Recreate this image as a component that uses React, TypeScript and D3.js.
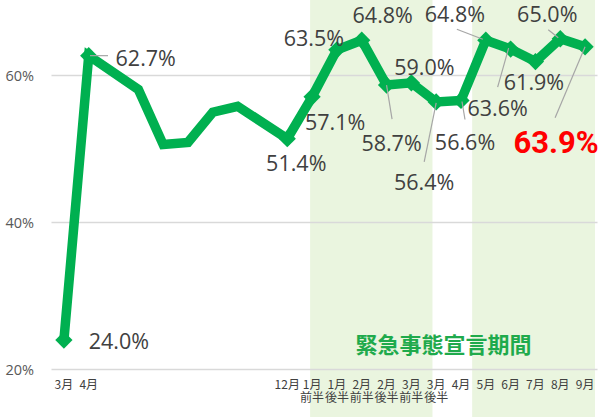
import * as d3 from "d3"

// survey rounds (blank names = rounds without an axis label)
const months = [
  "3月", "4月", "", "", "", "", "", "", "", "12月",
  "1月", "1月", "2月", "2月", "3月", "3月", "4月", "5月", "6月", "7月", "8月", "9月",
]
const halves = [
  "", "", "", "", "", "", "", "", "", "",
  "前半", "後半", "前半", "後半", "前半", "後半", "", "", "", "", "", "",
]
const rates: (number | null)[] = [
  24.0, 62.7, null, 58.1, 50.6, 50.9, 55.0, 55.8, null, 51.4,
  57.1, 63.5, 64.8, 58.7, 59.0, 56.4, 56.6, 64.8, 63.6, 61.9, 65.0, 63.9,
]
// which rounds carry a data label
const labelled = [0, 1, 9, 10, 11, 12, 13, 14, 15, 16, 17, 18, 19, 20, 21]
const yTicks = [20, 40, 60]
// state of emergency periods, in category units
const emergencyPeriods: [number, number][] = [
  [9.92, 14.85],
  [16.45, 21.4],
]
const legendText = "緊急事態宣言期間"

const W = 600
const H = 417
const GREEN = "#00b050"

// label placement relative to the point: [dx, dy, leader?]
const labelPos: Record<number, [number, number, number[]?]> = {
  0: [55, 0],
  1: [57, 2, [1.3, 0, 19.3, 0]],
  9: [9, 24],
  10: [23, 25],
  11: [-23, -12],
  12: [21, -26],
  13: [5, 57, [0, 0, 5.5, 34]],
  14: [13, -16],
  15: [-12, 80, [0, 1, -12, 60]],
  16: [4, 41, [1, 1, 4, 19]],
  17: [-31, -27, [-29, -11, -3, -1]],
  18: [-13, 58, [-2, -1, -13, 38]],
  19: [-1.5, 20],
  20: [-13, -25, [-12, -9, -2, -1]],
  21: [-29, 96, [0, 0, -30, 71]],
}

export default function App() {
  const x = d3
    .scalePoint<number>()
    .domain(d3.range(months.length))
    .range([51.5, 597.5])
    .padding(0.5)
  const step = x.step()
  const xi = (i: number) => (x(0) as number) + i * step

  const y = d3.scaleLinear().domain([20, 70]).range([369.5, 2])

  const pts = rates
    .map((v, i) => ({ i, v }))
    .filter((d) => d.v !== null) as { i: number; v: number }[]

  const line = d3
    .line<{ i: number; v: number }>()
    .x((d) => xi(d.i))
    .y((d) => y(d.v))

  const diamond = d3.symbol().type(d3.symbolDiamond2).size(190)()

  return (
    <svg
      width={W}
      height={H}
      style={{ position: "absolute", left: 0, top: 0, background: "#fff" }}
    >
      {emergencyPeriods.map(([a, b], k) => (
        <rect key={k} x={xi(a)} y={0} width={xi(b) - xi(a)} height={H} fill="#eaf5df" />
      ))}

      {yTicks.map((t) => (
        <g key={t}>
          <line x1={51.5} x2={597.5} y1={y(t)} y2={y(t)} stroke="#d9d9d9" strokeWidth={1.3} />
          <text
            x={34}
            y={y(t)}
            textAnchor="end"
            dominantBaseline="central"
            fontFamily="'Open Sans', sans-serif"
            fontSize={14.5}
            fill="#595959"
          >
            {t}%
          </text>
        </g>
      ))}

      <g fontFamily="'Noto Sans CJK JP', sans-serif" fontSize={12} fill="#404040" textAnchor="middle">
        {months.map((m, i) =>
          m ? (
            <text key={"m" + i} x={xi(i)} y={383} dominantBaseline="central">
              {m}
            </text>
          ) : null,
        )}
        {halves.map((h, i) =>
          h ? (
            <text key={"h" + i} x={xi(i)} y={396} dominantBaseline="central">
              {h}
            </text>
          ) : null,
        )}
      </g>

      <text
        x={(xi(emergencyPeriods[0][0]) + xi(emergencyPeriods[1][1])) / 2 - 9}
        y={343}
        textAnchor="middle"
        dominantBaseline="central"
        fontFamily="'Noto Sans CJK JP', sans-serif"
        fontWeight={700}
        fontSize={22}
        fill="#1faa4c"
      >
        {legendText}
      </text>

      <path
        d={line(pts) ?? ""}
        fill="none"
        stroke={GREEN}
        strokeWidth={9.5}
        strokeLinejoin="miter"
        strokeMiterlimit={2}
      />
      {labelled.map((i) => (
        <path
          key={"d" + i}
          d={diamond ?? ""}
          transform={`translate(${xi(i)},${y(rates[i] as number)})`}
          fill={GREEN}
        />
      ))}

      {labelled.map((i) => {
        const [dx, dy, leader] = labelPos[i]
        const px = xi(i)
        const py = y(rates[i] as number)
        const last = i === rates.length - 1
        return (
          <g key={"l" + i}>
            {leader && (
              <line
                x1={px + leader[0]}
                y1={py + leader[1]}
                x2={px + leader[2]}
                y2={py + leader[3]}
                stroke="#a6a6a6"
                strokeWidth={1.2}
              />
            )}
            <text
              x={px + dx}
              y={py + dy}
              textAnchor="middle"
              dominantBaseline="central"
              fontFamily={last ? "Roboto, sans-serif" : "'Open Sans', sans-serif"}
              fontWeight={last ? 700 : 400}
              fontSize={last ? 31 : 21.5}
              fill={last ? "#ff0000" : "#404040"}
            >
              {(rates[i] as number).toFixed(1)}%
            </text>
          </g>
        )
      })}
    </svg>
  )
}
